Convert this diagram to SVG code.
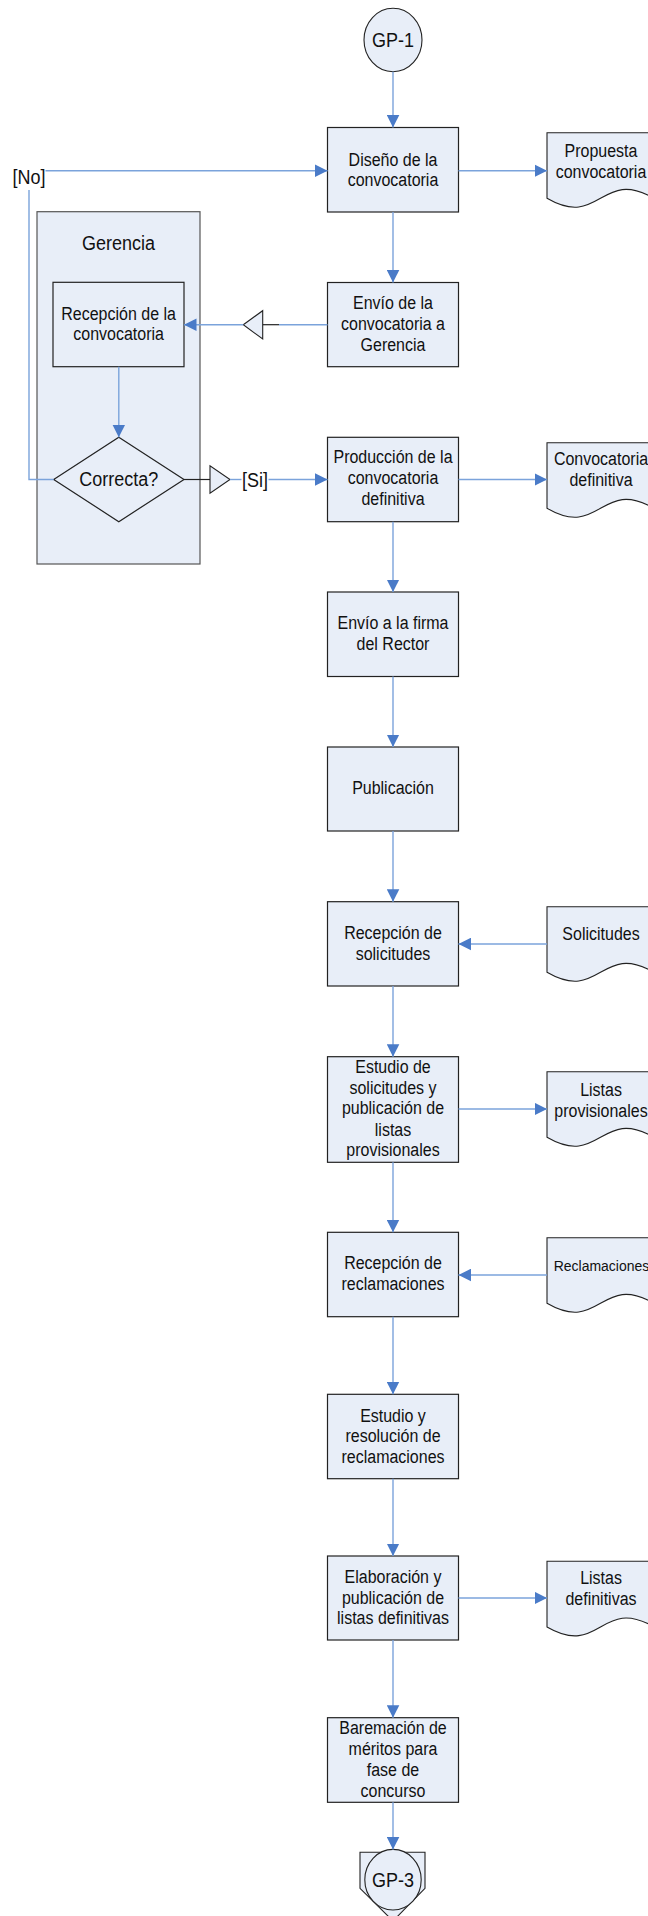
<svg xmlns="http://www.w3.org/2000/svg" width="648" height="1916" viewBox="0 0 648 1916">
<style>
.box{fill:#E8EEF8;stroke:#222;stroke-width:1.2}
.pool{fill:#E8EEF8;stroke:#555;stroke-width:1.2}
.doc{fill:#E8EEF8;stroke:#222;stroke-width:1.1}
.ln{fill:none;stroke:#7BA3DB;stroke-width:1.4}
.blk{fill:none;stroke:#222;stroke-width:1.2}
.tri{fill:#E8EEF8;stroke:#222;stroke-width:1.1}
text{font-family:"Liberation Sans",Arial,sans-serif;fill:#111;text-anchor:middle}
.t{font-size:16px}
.l{font-size:18px}
.s{font-size:14px}
</style>
<defs>
<marker id="ah" markerUnits="userSpaceOnUse" markerWidth="13" markerHeight="13" viewBox="0 0 13 13" refX="12.5" refY="6.5" orient="auto">
<path d="M0,0.2 L12.5,6.5 L0,12.8 Z" fill="#4A7BC8"/>
</marker>
</defs>

<g id="gerencia">
<rect class="pool" x="37" y="211.7" width="163" height="352.3"/>
<text class="l" transform="translate(118.6,250) scale(1,1.1)" x="0" y="0">Gerencia</text>
</g>

<g id="gp1">
<ellipse cx="393" cy="40" rx="29" ry="31.7" fill="#E8EEF8" stroke="#222" stroke-width="1.1"/>
<text class="l" transform="translate(393,46.5) scale(1,1.1)" x="0" y="0">GP-1</text>
</g>

<g id="diseno">
<rect class="box" x="327.5" y="127.5" width="131" height="84.5"/>
<text class="t" transform="translate(393,166) scale(1,1.1)"><tspan x="0" y="0">Diseño de la</tspan><tspan x="0" y="18.6">convocatoria</tspan></text>
</g>

<g id="propuesta">
<path class="doc" d="M547,132.7 H654 V198.3 C600.5,167.3 600.5,229.3 547,198.3 Z"/>
<text class="t" transform="translate(601,157) scale(1,1.1)"><tspan x="0" y="0">Propuesta</tspan><tspan x="0" y="19.3">convocatoria</tspan></text>
</g>

<g id="envio-gerencia">
<rect class="box" x="327.5" y="282.5" width="131" height="84.2"/>
<text class="t" transform="translate(393,309) scale(1,1.1)"><tspan x="0" y="0">Envío de la</tspan><tspan x="0" y="19.1">convocatoria a</tspan><tspan x="0" y="37.9">Gerencia</tspan></text>
</g>

<g id="recepcion-conv">
<rect class="box" x="53" y="282.3" width="131" height="84.4"/>
<text class="t" transform="translate(118.6,320) scale(1,1.1)"><tspan x="0" y="0">Recepción de la</tspan><tspan x="0" y="18.4">convocatoria</tspan></text>
</g>

<g id="correcta">
<polygon class="box" points="118.8,437.3 184,479.5 118.8,521.7 53.7,479.5"/>
<text class="l" transform="translate(118.8,485.5) scale(1,1.1)" x="0" y="0">Correcta?</text>
</g>

<g id="produccion">
<rect class="box" x="327.5" y="437.3" width="131" height="84.4"/>
<text class="t" transform="translate(393,463.3) scale(1,1.1)"><tspan x="0" y="0">Producción de la</tspan><tspan x="0" y="19.1">convocatoria</tspan><tspan x="0" y="37.9">definitiva</tspan></text>
</g>

<g id="conv-definitiva">
<path class="doc" d="M547,442.7 H654 V508.3 C600.5,477.3 600.5,539.3 547,508.3 Z"/>
<text class="t" transform="translate(601,465) scale(1,1.1)"><tspan x="0" y="0">Convocatoria</tspan><tspan x="0" y="18.8">definitiva</tspan></text>
</g>

<g id="envio-firma">
<rect class="box" x="327.5" y="592" width="131" height="84.5"/>
<text class="t" transform="translate(393,629) scale(1,1.1)"><tspan x="0" y="0">Envío a la firma</tspan><tspan x="0" y="19.1">del Rector</tspan></text>
</g>

<g id="publicacion">
<rect class="box" x="327.5" y="747" width="131" height="84"/>
<text class="t" transform="translate(393,794.3) scale(1,1.1)" x="0" y="0">Publicación</text>
</g>

<g id="recepcion-solicitudes">
<rect class="box" x="327.5" y="901.7" width="131" height="84.3"/>
<text class="t" transform="translate(393,939) scale(1,1.1)"><tspan x="0" y="0">Recepción de</tspan><tspan x="0" y="19.1">solicitudes</tspan></text>
</g>

<g id="solicitudes">
<path class="doc" d="M547,906.7 H654 V972.3 C600.5,941.3 600.5,1003.3 547,972.3 Z"/>
<text class="t" transform="translate(601,940) scale(1,1.1)" x="0" y="0">Solicitudes</text>
</g>

<g id="estudio-solicitudes">
<rect class="box" x="327.5" y="1056.7" width="131" height="105.6"/>
<text class="t" transform="translate(393,1073.3) scale(1,1.1)"><tspan x="0" y="0">Estudio de</tspan><tspan x="0" y="18.8">solicitudes y</tspan><tspan x="0" y="37.3">publicación de</tspan><tspan x="0" y="56.7">listas</tspan><tspan x="0" y="74.9">provisionales</tspan></text>
</g>

<g id="listas-provisionales">
<path class="doc" d="M547,1071.7 H654 V1137.3 C600.5,1106.3 600.5,1168.3 547,1137.3 Z"/>
<text class="t" transform="translate(601,1095.7) scale(1,1.1)"><tspan x="0" y="0">Listas</tspan><tspan x="0" y="19.1">provisionales</tspan></text>
</g>

<g id="recepcion-reclamaciones">
<rect class="box" x="327.5" y="1232.3" width="131" height="84.4"/>
<text class="t" transform="translate(393,1269.3) scale(1,1.1)"><tspan x="0" y="0">Recepción de</tspan><tspan x="0" y="18.8">reclamaciones</tspan></text>
</g>

<g id="reclamaciones">
<path class="doc" d="M547,1237.7 H654 V1303.3 C600.5,1272.3 600.5,1334.3 547,1303.3 Z"/>
<text class="s" transform="translate(601.5,1270.7) scale(1,1.1)" x="0" y="0">Reclamaciones</text>
</g>

<g id="estudio-resolucion">
<rect class="box" x="327.5" y="1394.3" width="131" height="84.4"/>
<text class="t" transform="translate(393,1421.7) scale(1,1.1)"><tspan x="0" y="0">Estudio y</tspan><tspan x="0" y="18.7">resolución de</tspan><tspan x="0" y="37.3">reclamaciones</tspan></text>
</g>

<g id="elaboracion">
<rect class="box" x="327.5" y="1556" width="131" height="84"/>
<text class="t" transform="translate(393,1583.3) scale(1,1.1)"><tspan x="0" y="0">Elaboración y</tspan><tspan x="0" y="18.8">publicación de</tspan><tspan x="0" y="37">listas definitivas</tspan></text>
</g>

<g id="listas-definitivas">
<path class="doc" d="M547,1561.3 H654 V1626.9 C600.5,1595.9 600.5,1657.9 547,1626.9 Z"/>
<text class="t" transform="translate(601,1584) scale(1,1.1)"><tspan x="0" y="0">Listas</tspan><tspan x="0" y="18.8">definitivas</tspan></text>
</g>

<g id="baremacion">
<rect class="box" x="327.5" y="1717.7" width="131" height="84.6"/>
<text class="t" transform="translate(393,1734.3) scale(1,1.1)"><tspan x="0" y="0">Baremación de</tspan><tspan x="0" y="18.8">méritos para</tspan><tspan x="0" y="37.6">fase de</tspan><tspan x="0" y="56.7">concurso</tspan></text>
</g>

<g id="gp3">
<polygon class="doc" points="360,1852.3 425,1852.3 425,1888.3 393,1921 360,1888.3"/>
<ellipse cx="393" cy="1879.7" rx="28.2" ry="30.3" fill="#E8EEF8" stroke="#222" stroke-width="1.1"/>
<text class="l" transform="translate(393,1886.5) scale(1,1.1)" x="0" y="0">GP-3</text>
</g>

<g id="connectors">
<line class="ln" x1="393" y1="71.7" x2="393" y2="127.5" marker-end="url(#ah)"/>
<line class="ln" x1="45.5" y1="170.7" x2="327.5" y2="170.7" marker-end="url(#ah)"/>
<line class="ln" x1="458.5" y1="170.7" x2="547" y2="170.7" marker-end="url(#ah)"/>
<line class="ln" x1="393" y1="212" x2="393" y2="282.5" marker-end="url(#ah)"/>
<line class="ln" x1="327.5" y1="324.7" x2="279" y2="324.7"/>
<line class="blk" x1="279" y1="324.7" x2="262.7" y2="324.7"/>
<polygon class="tri" points="243.3,324.7 262.7,310.7 262.7,339"/>
<line class="ln" x1="243.3" y1="324.7" x2="184" y2="324.7" marker-end="url(#ah)"/>
<line class="ln" x1="118.8" y1="366.7" x2="118.8" y2="437.3" marker-end="url(#ah)"/>
<polyline class="ln" points="29,190 29,479.5 53.7,479.5"/>
<line class="blk" x1="184" y1="479.5" x2="210" y2="479.5"/>
<polygon class="tri" points="210,465.7 210,493.3 230,479.5"/>
<line class="ln" x1="230" y1="479.5" x2="241.5" y2="479.5"/>
<line class="ln" x1="268.5" y1="479.5" x2="327.5" y2="479.5" marker-end="url(#ah)"/>
<line class="ln" x1="458.5" y1="479.5" x2="547" y2="479.5" marker-end="url(#ah)"/>
<line class="ln" x1="393" y1="521.7" x2="393" y2="592" marker-end="url(#ah)"/>
<line class="ln" x1="393" y1="676.5" x2="393" y2="747" marker-end="url(#ah)"/>
<line class="ln" x1="393" y1="831" x2="393" y2="901.7" marker-end="url(#ah)"/>
<line class="ln" x1="547" y1="944" x2="458.5" y2="944" marker-end="url(#ah)"/>
<line class="ln" x1="393" y1="986" x2="393" y2="1056.7" marker-end="url(#ah)"/>
<line class="ln" x1="458.5" y1="1109" x2="547" y2="1109" marker-end="url(#ah)"/>
<line class="ln" x1="393" y1="1162.3" x2="393" y2="1232.3" marker-end="url(#ah)"/>
<line class="ln" x1="547" y1="1275" x2="458.5" y2="1275" marker-end="url(#ah)"/>
<line class="ln" x1="393" y1="1316.7" x2="393" y2="1394.3" marker-end="url(#ah)"/>
<line class="ln" x1="393" y1="1478.7" x2="393" y2="1556" marker-end="url(#ah)"/>
<line class="ln" x1="458.5" y1="1598" x2="547" y2="1598" marker-end="url(#ah)"/>
<line class="ln" x1="393" y1="1640" x2="393" y2="1717.7" marker-end="url(#ah)"/>
<line class="ln" x1="393" y1="1802.3" x2="393" y2="1849.5" marker-end="url(#ah)"/>
</g>

<g id="labels">
<text class="l" transform="translate(29,183.5) scale(1,1.1)" x="0" y="0">[No]</text>
<text class="l" transform="translate(255,486.5) scale(1,1.1)" x="0" y="0">[Si]</text>
</g>
</svg>
